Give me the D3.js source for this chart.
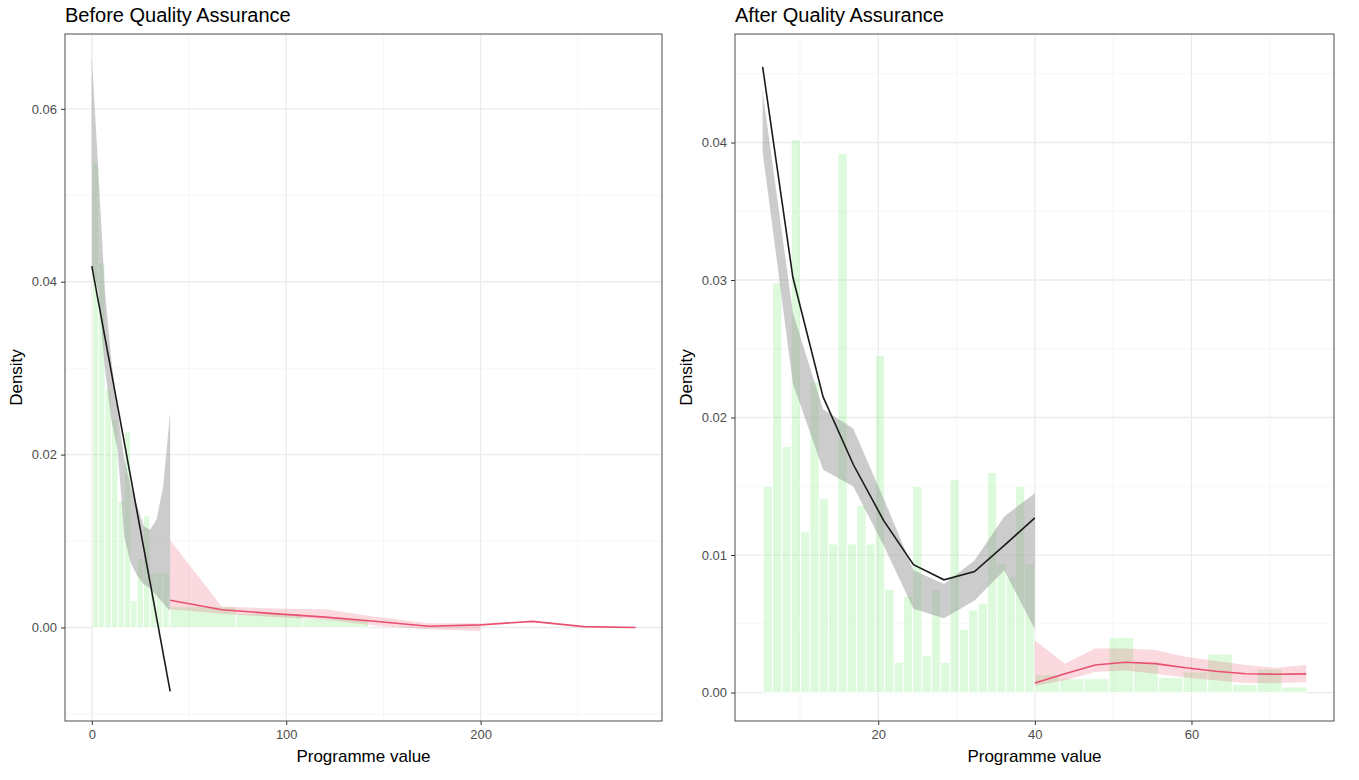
<!DOCTYPE html>
<html>
<head>
<meta charset="utf-8">
<script src="https://cdn.jsdelivr.net/npm/d3@7/dist/d3.min.js"></script>
<style>
body { margin: 0; background: #fff; }
text { font-family: "Liberation Sans", Arial, sans-serif; }
</style>
</head>
<body>
<svg id="chart" width="1359" height="780"></svg>
<script>
// ---- Before QA ----
var beforeLowBins = [0.2, 3.3];          // start, width
var beforeLowBars = [0.0537, 0.0422, 0.0275, 0.0242, 0.0146, 0.0226, 0.0031, 0.0080, 0.0129, 0.0063, 0.0063, 0.0063];
var beforeHighBins = [40.3, 34.0];
var beforeHighBars = [0.0024, 0.0016, 0.0010];

var beforeLowFitX = [0, 40.3];
var beforeLowFitY = [0.0418, -0.0074];
var beforeLowBandX = [0, 3.3, 6.7, 10, 13.3, 16.7, 20, 23.3, 26.7, 30, 33.3, 36.7, 40.3];
var beforeLowBandLo = [0.042, 0.039, 0.030, 0.024, 0.0205, 0.0105, 0.0075, 0.006, 0.005, 0.0045, 0.0037, 0.0028, 0.0019];
var beforeLowBandHi = [0.066, 0.053, 0.039, 0.031, 0.025, 0.0195, 0.0163, 0.0141, 0.0117, 0.0113, 0.0125, 0.0163, 0.0249];

var beforeHighFitX = [40.3, 66.9, 93.5, 120.1, 146.7, 173.3, 199.9, 226.5, 253.1, 279.7];
var beforeHighFitY = [0.00315, 0.00205, 0.0016, 0.0012, 0.0007, 0.00015, 0.0003, 0.0007, 0.0001, 0.0];
var beforeHighBandX = [40.3, 66.9, 93.5, 120.1, 146.7, 173.3, 199.9];
var beforeHighBandLo = [0.0021, 0.0016, 0.0012, 0.0009, 0.0002, -0.0002, -0.0004];
var beforeHighBandHi = [0.0101, 0.0024, 0.0022, 0.0021, 0.0012, 0.0005, 0.0005];

var beforeXTicks = [0, 100, 200];
var beforeXMinor = [50, 150, 250];
var beforeYTicks = [0, 0.02, 0.04, 0.06];
var beforeYMinor = [-0.01, 0.01, 0.03, 0.05];

// ---- After QA ----
var afterLowBins = [5.31, 1.193];
var afterLowBars = [0.0150, 0.0298, 0.0179, 0.0402, 0.0117, 0.0226, 0.0141, 0.0108, 0.0392, 0.0108,
                    0.0136, 0.0108, 0.0245, 0.0075, 0.0022, 0.0070, 0.0150, 0.0027, 0.0075, 0.0022,
                    0.0155, 0.0046, 0.0060, 0.0065, 0.0160, 0.0094, 0.0084, 0.0150, 0.0094];
var afterHighBins = [40.0, 3.155];
var afterHighBars = [0.0013, 0.0010, 0.0010, 0.0040, 0.0022, 0.0011, 0.0015, 0.0028, 0.0006, 0.0017, 0.0004];

var afterLowFitX = [5.24, 9.1, 12.96, 16.8, 20.7, 24.5, 28.4, 32.3, 36.1, 40.0];
var afterLowFitY = [0.0455, 0.0302, 0.0215, 0.0166, 0.0125, 0.0093, 0.0082, 0.0088, 0.0107, 0.0127];
var afterLowBandLo = [0.0393, 0.0225, 0.0162, 0.0150, 0.0107, 0.0061, 0.0054, 0.0067, 0.0089, 0.0046];
var afterLowBandHi = [0.0437, 0.0276, 0.0206, 0.0192, 0.0141, 0.0089, 0.0079, 0.0096, 0.0128, 0.0145];

var afterHighFitX = [40.0, 43.85, 47.7, 51.55, 55.4, 59.25, 63.1, 66.95, 70.8, 74.65];
var afterHighFitY = [0.0007, 0.00136, 0.0020, 0.0022, 0.0021, 0.0018, 0.00155, 0.00137, 0.00133, 0.00136];
var afterHighBandLo = [0.0005, 0.0009, 0.0015, 0.0016, 0.00136, 0.0011, 0.0009, 0.0007, 0.0007, 0.00075];
var afterHighBandHi = [0.0038, 0.0021, 0.0032, 0.0032, 0.0031, 0.0026, 0.0023, 0.0020, 0.0018, 0.0020];

var afterXTicks = [20, 40, 60];
var afterXMinor = [10, 30, 50, 70];
var afterYTicks = [0, 0.01, 0.02, 0.03, 0.04];
var afterYMinor = [0.005, 0.015, 0.025, 0.035, 0.045];

var svg = d3.select('#chart');

var DensityPanel = function(options) {
    return this.init(options);
};

DensityPanel.prototype.init = function(options) {
    for (var option in options) {
        this[option] = options[option];
    }
    this.x = d3.scaleLinear().domain(this.xDomain).range([this.left, this.right]);
    this.y = d3.scaleLinear().domain(this.yDomain).range([this.bottom, this.top]);
    this.g = svg.append('g');
    return this;
};

DensityPanel.prototype.grid = function() {
    var self = this;
    var g = this.g.append('g').attr('class', 'grid');
    // minor first, major on top
    g.selectAll('line.xminor').data(this.xMinor).enter().append('line')
        .attr('x1', function(d) { return self.x(d); })
        .attr('x2', function(d) { return self.x(d); })
        .attr('y1', this.top).attr('y2', this.bottom)
        .style('stroke', '#f2f2f2').style('stroke-width', 0.7);
    g.selectAll('line.yminor').data(this.yMinor).enter().append('line')
        .attr('y1', function(d) { return self.y(d); })
        .attr('y2', function(d) { return self.y(d); })
        .attr('x1', this.left).attr('x2', this.right)
        .style('stroke', '#f2f2f2').style('stroke-width', 0.7);
    g.selectAll('line.xmajor').data(this.xTicks).enter().append('line')
        .attr('x1', function(d) { return self.x(d); })
        .attr('x2', function(d) { return self.x(d); })
        .attr('y1', this.top).attr('y2', this.bottom)
        .style('stroke', '#ebebeb').style('stroke-width', 1.3);
    g.selectAll('line.ymajor').data(this.yTicks).enter().append('line')
        .attr('y1', function(d) { return self.y(d); })
        .attr('y2', function(d) { return self.y(d); })
        .attr('x1', this.left).attr('x2', this.right)
        .style('stroke', '#ebebeb').style('stroke-width', 1.3);
    return this;
};

DensityPanel.prototype.bars = function(bins, heights) {
    var self = this;
    var start = bins[0], width = bins[1];
    this.g.append('g').selectAll('rect').data(heights).enter().append('rect')
        .attr('x', function(d, i) { return self.x(start + i * width); })
        .attr('width', function(d, i) { return self.x(start + (i + 1) * width) - self.x(start + i * width); })
        .attr('y', function(d) { return self.y(d); })
        .attr('height', function(d) { return self.y(0) - self.y(d); })
        .style('fill', '#90ee90')
        .style('fill-opacity', 0.3)
        .style('stroke', '#fff')
        .style('stroke-width', 0.9);
    return this;
};

DensityPanel.prototype.band = function(xs, lo, hi, color, opacity) {
    var self = this;
    var area = d3.area()
        .x(function(d) { return self.x(d[0]); })
        .y0(function(d) { return self.y(d[1]); })
        .y1(function(d) { return self.y(d[2]); });
    var pts = xs.map(function(v, i) { return [v, lo[i], hi[i]]; });
    this.g.append('path').datum(pts)
        .attr('d', area)
        .style('fill', color)
        .style('fill-opacity', opacity);
    return this;
};

DensityPanel.prototype.fit = function(xs, ys, color) {
    var self = this;
    var line = d3.line()
        .x(function(d) { return self.x(d[0]); })
        .y(function(d) { return self.y(d[1]); });
    var pts = xs.map(function(v, i) { return [v, ys[i]]; });
    this.g.append('path').datum(pts)
        .attr('d', line)
        .style('fill', 'none')
        .style('stroke', color)
        .style('stroke-width', 1.6);
    return this;
};

DensityPanel.prototype.axes = function() {
    this.g.append('rect')
        .attr('x', this.left).attr('y', this.top)
        .attr('width', this.right - this.left).attr('height', this.bottom - this.top)
        .style('fill', 'none').style('stroke', '#4d4d4d').style('stroke-width', 1);

    var ax = this.g.append('g')
        .attr('transform', 'translate(0,' + this.bottom + ')')
        .call(d3.axisBottom(this.x).tickValues(this.xTicks).tickSize(4).tickPadding(5).tickFormat(d3.format('d')));
    var ay = this.g.append('g')
        .attr('transform', 'translate(' + this.left + ',0)')
        .call(d3.axisLeft(this.y).tickValues(this.yTicks).tickSize(4).tickPadding(4).tickFormat(d3.format('.2f')));
    [ax, ay].forEach(function(a) {
        a.select('.domain').remove();
        a.selectAll('.tick line').style('stroke', '#333');
        a.selectAll('.tick text').style('fill', '#4d4d4d').style('font-size', '13px')
            .style('font-family', '"Liberation Sans", Arial, sans-serif');
    });

    this.g.append('text')
        .attr('x', (this.left + this.right) / 2).attr('y', this.bottom + 41)
        .attr('text-anchor', 'middle')
        .style('font-size', '17px')
        .text('Programme value');
    this.g.append('text')
        .attr('transform', 'translate(' + (this.left - 43) + ',' + ((this.top + this.bottom) / 2) + ') rotate(-90)')
        .attr('text-anchor', 'middle')
        .style('font-size', '17px')
        .text('Density');
    this.g.append('text')
        .attr('x', this.left).attr('y', this.top - 12)
        .style('font-size', '20px')
        .text(this.title);
    return this;
};

var before = new DensityPanel({
    title: 'Before Quality Assurance',
    left: 65, right: 662, top: 34, bottom: 721,
    xDomain: [-13.8, 293.3], yDomain: [-0.01082, 0.06866],
    xTicks: beforeXTicks, xMinor: beforeXMinor, yTicks: beforeYTicks, yMinor: beforeYMinor
});
before.grid()
    .bars(beforeLowBins, beforeLowBars)
    .bars(beforeHighBins, beforeHighBars)
    .band(beforeLowBandX, beforeLowBandLo, beforeLowBandHi, '#999999', 0.5)
    .band(beforeHighBandX, beforeHighBandLo, beforeHighBandHi, '#e8506e', 0.22)
    .fit(beforeLowFitX, beforeLowFitY, '#1a1a1a')
    .fit(beforeHighFitX, beforeHighFitY, '#e8506e')
    .axes();

var after = new DensityPanel({
    title: 'After Quality Assurance',
    left: 735, right: 1334, top: 34, bottom: 721,
    xDomain: [1.71, 78.2], yDomain: [-0.00207, 0.04789],
    xTicks: afterXTicks, xMinor: afterXMinor, yTicks: afterYTicks, yMinor: afterYMinor
});
after.grid()
    .bars(afterLowBins, afterLowBars)
    .bars(afterHighBins, afterHighBars)
    .band(afterLowFitX, afterLowBandLo, afterLowBandHi, '#999999', 0.5)
    .band(afterHighFitX, afterHighBandLo, afterHighBandHi, '#e8506e', 0.22)
    .fit(afterLowFitX, afterLowFitY, '#1a1a1a')
    .fit(afterHighFitX, afterHighFitY, '#e8506e')
    .axes();
</script>
</body>
</html>
